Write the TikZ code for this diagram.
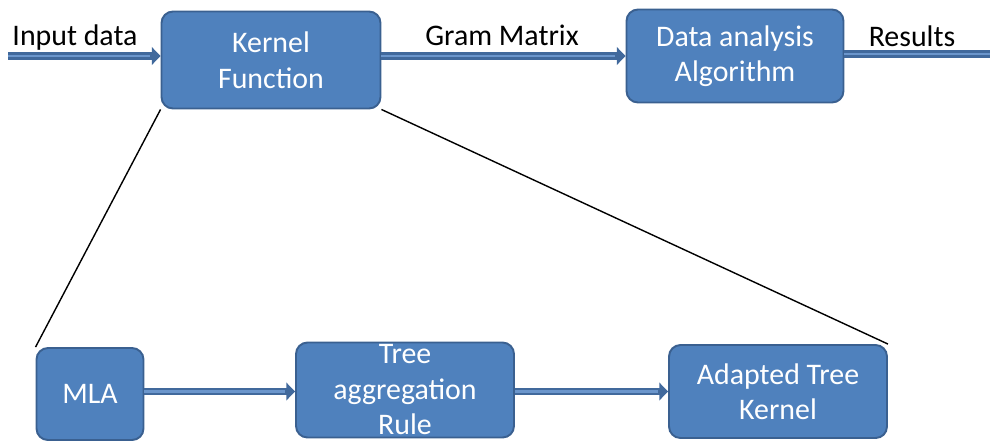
\documentclass[tikz,border=0pt]{standalone}
\usepackage{fontspec}
\setmainfont{Carlito}
\usetikzlibrary{arrows.meta}
\definecolor{boxfill}{HTML}{4F81BD}
\definecolor{boxline}{HTML}{3A6090}
\definecolor{flowdark}{HTML}{41699C}
\definecolor{flowlight}{HTML}{6B96CC}
\begin{document}
\begin{tikzpicture}[x=0.02cm,y=-0.02cm,font=\fontsize{17}{20.2}\selectfont,align=center,
  blk/.style={draw=boxline,fill=boxfill,line width=1.1pt,rounded corners=6.5pt,text=white,inner sep=0pt},
  lbl/.style={text=black},
  flow/.style={draw=flowdark,line width=4pt,-{Triangle[length=5pt,width=10pt]},
    postaction={draw=flowlight,line width=1.2pt,-,shorten >=#1}},
  flow/.default=6pt,
  link/.style={draw=black,line width=0.8pt}]
  \useasboundingbox (0,0) rectangle (990,441);
  % top row
  \node[blk,minimum width=4.38cm,minimum height=1.94cm] (kf) at (271,60){Kernel\\Function};
  \node[blk,minimum width=4.34cm,minimum height=1.86cm] (daa) at (735,56){Data analysis\\Algorithm};
  \node[lbl] (inp) at (75,38){Input data};
  \node[lbl] (gram) at (502,35){Gram Matrix};
  \node[lbl] (res) at (912,36){Results};
  \coordinate (src) at (8,56);
  \coordinate (sink) at (990,54);
  % bottom row
  \node[blk,minimum width=2.14cm,minimum height=1.84cm] (mla) at (90,394){MLA};
  \node[blk,minimum width=4.36cm,minimum height=1.9cm] (tar) at (405,390){Tree\\aggregation\\Rule};
  \node[blk,minimum width=4.36cm,minimum height=1.86cm] (atk) at (778,391.5){Adapted Tree\\Kernel};
  % connectors
  \draw[flow] (src) -- (kf.west |- src);
  \draw[flow] (kf.east |- daa.west) -- (daa.west);
  \draw[flow=0pt,-] (daa.east |- sink) -- (sink);
  \draw[flow] (mla.east |- atk.west) -- (tar.west |- atk.west);
  \draw[flow] (tar.east |- atk.west) -- (atk.west);
  \draw[link] (kf.south west) -- (mla.north west);
  \draw[link] (kf.south east) -- (atk.north east);
\end{tikzpicture}
\end{document}
